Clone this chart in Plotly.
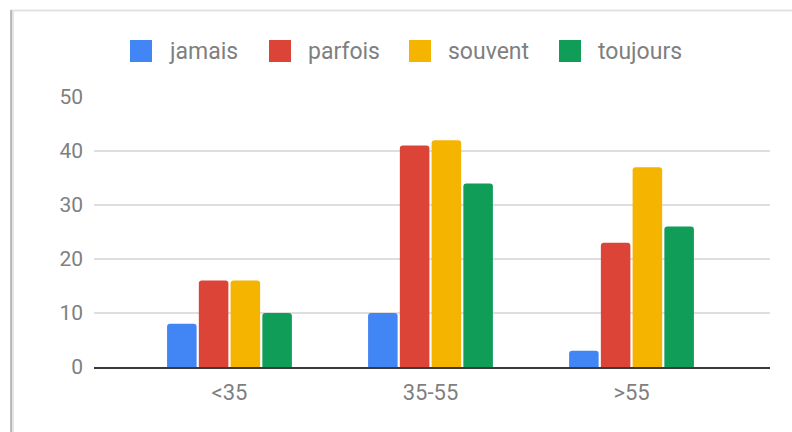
import plotly.graph_objects as go

categories = ["<35", "35-55", ">55"]
series_names = ["jamais", "parfois", "souvent", "toujours"]
jamais = [8, 10, 3]
parfois = [16, 41, 23]
souvent = [16, 42, 37]
toujours = [10, 34, 26]
colors = ["#4285F4", "#DB4437", "#F4B400", "#0F9D58"]
y_ticks = [0, 10, 20, 30, 40, 50]

values = [jamais, parfois, souvent, toujours]

W, H = 792, 432
L, R, T, B = 94, 22, 97, 65
pw, ph = W - L - R, H - T - B

def px(x):
    return (x - L) / pw

def py(y):
    return (H - B - y) / ph

fig = go.Figure()
for name, vals, col in zip(series_names, values, colors):
    fig.add_trace(go.Bar(
        x=categories, y=vals, name=name,
        marker=dict(color=col, line=dict(width=0), cornerradius=3),
        showlegend=False, hoverinfo="x+y+name",
    ))

font_family = "Roboto, Arial, sans-serif"
text_color = "#7f7f7f"

# custom legend (squares + text)
sq_x = [130, 269, 409, 559]
txt_x = [167, 306, 446, 596]
for i, name in enumerate(series_names):
    fig.add_shape(type="rect", xref="paper", yref="paper",
                  x0=px(sq_x[i]), x1=px(sq_x[i] + 22),
                  y0=py(62), y1=py(40),
                  fillcolor=colors[i], line=dict(width=0), layer="above")
    fig.add_annotation(xref="paper", yref="paper", x=px(txt_x[i]), y=py(51),
                       text=name, showarrow=False, xanchor="left", yanchor="middle",
                       font=dict(family=font_family, size=23, color=text_color))

# frame lines (screenshot border)
fig.add_shape(type="line", xref="paper", yref="paper",
              x0=px(11), x1=px(W + 5), y0=py(10.5), y1=py(10.5),
              line=dict(color="#e2e2e2", width=2), layer="above")
fig.add_shape(type="line", xref="paper", yref="paper",
              x0=px(12.5), x1=px(12.5), y0=py(10), y1=py(H + 5),
              line=dict(color="#e4e4e4", width=3), layer="above")
fig.add_shape(type="line", xref="paper", yref="paper",
              x0=px(11), x1=px(11), y0=py(10), y1=py(H + 5),
              line=dict(color="#a8a8a8", width=1.5), layer="above")

fig.update_layout(
    width=W, height=H,
    margin=dict(l=L, r=R, t=T, b=B, pad=0),
    paper_bgcolor="white", plot_bgcolor="white",
    barmode="group", bargap=0.368, bargroupgap=0.07,
    font=dict(family=font_family, size=21, color=text_color),
    xaxis=dict(
        type="category", range=[-0.674, 2.689],
        showgrid=False, showline=True, linecolor="#3a3a3a", linewidth=2,
        ticks="", tickfont=dict(size=22, color=text_color),
        ticklabelstandoff=5, fixedrange=True,
    ),
    yaxis=dict(
        range=[0, 50], tickvals=y_ticks, showgrid=True,
        gridcolor="#dedede", gridwidth=1.5, zeroline=False,
        showline=False, ticks="", tickfont=dict(size=21, color=text_color),
        ticklabelstandoff=10, fixedrange=True,
    ),
)

fig.write_html("out.html", config={"displayModeBar": False},
               post_script="document.body.style.margin='0';document.body.style.overflow='hidden';")
